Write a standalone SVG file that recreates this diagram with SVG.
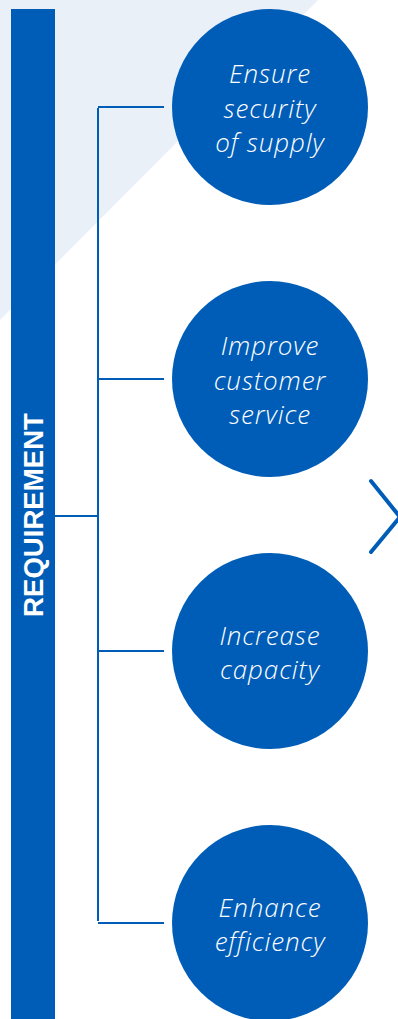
<svg xmlns="http://www.w3.org/2000/svg" width="398" height="1019" viewBox="0 0 398 1019">
<style>
.node circle{fill:#005DB7}
.node text{fill:#fff;font-family:"Open Sans",Lato,"Liberation Sans",sans-serif;font-style:italic;font-weight:300;font-size:26px;letter-spacing:0.9px;text-anchor:middle;font-variant-ligatures:none}
.conn{stroke:#005DB7;stroke-width:2;fill:none}
</style>
<rect width="398" height="1019" fill="#fff"/>
<polygon points="0,0 318,0 0,320" fill="#EAF0F8"/>
<g id="requirement">
<rect x="11" y="9" width="44" height="1010" fill="#005DB7"/>
<text transform="translate(43,515) rotate(-90)" text-anchor="middle" font-family="'Liberation Sans',Arial,sans-serif" font-weight="bold" font-size="27.6" fill="#fff">REQUIREMENT</text>
</g>
<g id="connectors" class="conn">
<path d="M55 516H98M98 108V921M98 107H164M98 379H164M98 651H164M98 923H164"/>
</g>
<g id="n1" class="node"><circle cx="270" cy="107" r="98"/><text x="270" y="83">Ensure</text><text x="270" y="118">security</text><text x="270" y="152">of supply</text></g>
<g id="n2" class="node"><circle cx="270" cy="379" r="98"/><text x="270" y="355">Improve</text><text x="270" y="390">customer</text><text x="270" y="424">service</text></g>
<g id="n3" class="node"><circle cx="270" cy="651" r="98"/><text x="270" y="645">Increase</text><text x="270" y="679">capacity</text></g>
<g id="n4" class="node"><circle cx="270" cy="923" r="98"/><text x="270" y="917">Enhance</text><text x="270" y="951">efficiency</text></g>
<g id="chevron"><polyline points="371,481 400,517 371,552" fill="none" stroke="#005DB7" stroke-width="4" stroke-linecap="round" stroke-linejoin="round"/></g>
</svg>
